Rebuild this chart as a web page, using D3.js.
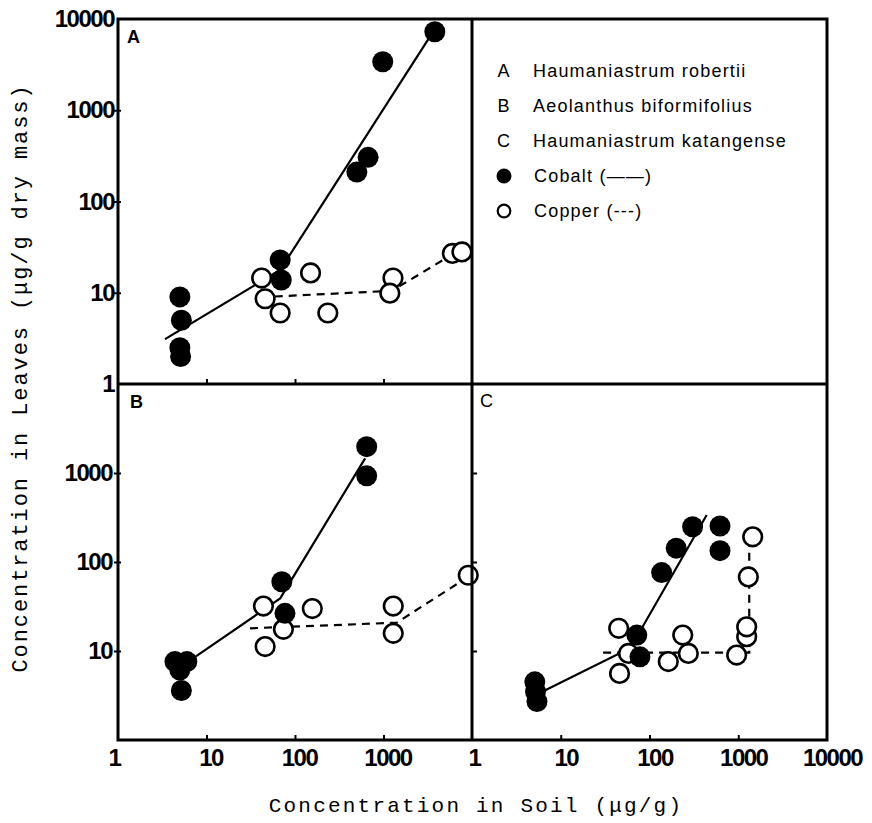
<!DOCTYPE html>
<html>
<head>
<meta charset="utf-8">
<script src="https://cdn.jsdelivr.net/npm/d3@7"></script>
<style>
  html, body { margin: 0; padding: 0; background: #fff; }
  svg { display: block; }
</style>
</head>
<body>
<svg id="chart" width="872" height="823"></svg>
<script>
// ---------------- DATA ----------------
const decadeTicks = [1, 10, 100, 1000, 10000];
const innerTicks = [10, 100, 1000];
const xLabelsLeft = [1, 10, 100, 1000];
const xLabelsRight = [1, 10, 100, 1000, 10000];
const yLabelsTop = [1, 10, 100, 1000, 10000];
const yLabelsBottom = [10, 100, 1000];

// Panel A: Haumaniastrum robertii
const cobaltA = [[5, 9.0], [5.2, 5.0], [5, 2.5], [5.1, 2.0], [68, 22.9], [70, 13.8],
                 [500, 210], [670, 305], [980, 3400], [3800, 7250]];
const copperA = [[42, 14.5], [46, 8.6], [68, 6.0], [150, 16.5], [235, 6.0],
                 [1280, 14.5], [1180, 9.9], [6000, 27], [7700, 28]];
const cobaltLineA = [[3.4, 3.1], [68, 17.8], [3350, 6400]];
const copperLineA = [[59, 9.1], [1240, 10.5], [5500, 25]];

// Panel B: Aeolanthus biformifolius
const cobaltB = [[4.4, 7.6], [6.0, 7.6], [5.0, 6.1], [5.2, 3.6], [71, 60], [77, 26.5],
                 [646, 1975], [646, 930]];
const copperB = [[44, 32], [46, 11.2], [74, 17.5], [157, 30], [1290, 32], [1290, 15.8], [9080, 71]];
const cobaltLineB = [[7.1, 8.3], [68, 39], [620, 1460]];
const copperLineB = [[31, 18], [1410, 20.8], [8000, 63]];

// Panel C: Haumaniastrum katangense
const cobaltC = [[5.1, 4.5], [5.2, 3.5], [5.4, 2.7], [72, 15.1], [78, 8.6], [137, 76],
                 [200, 143], [306, 249], [623, 254], [623, 134]];
const copperC = [[45, 18], [58, 9.4], [46, 5.6], [163, 7.6], [237, 15.1], [274, 9.4],
                 [960, 9.0], [1245, 14.5], [1245, 18.7], [1300, 68], [1455, 192]];
const cobaltLineC = [[6.6, 3.6], [61, 10.8], [441, 337]];
const copperLineC = [[30, 9.6], [1330, 9.6], [1330, 190]];

const legendSpecies = [["A", "Haumaniastrum robertii"], ["B", "Aeolanthus biformifolius"], ["C", "Haumaniastrum katangense"]];
const legendMetals = [["cobalt", "Cobalt (——)"], ["copper", "Copper (---)"]];
const xTitle = "Concentration in Soil (μg/g)";
const yTitle = "Concentration in Leaves (μg/g dry mass)";

// ---------------- LAYOUT ----------------
const L = 118, M = 472, R = 827, T = 19, MY = 384, B = 740;
const svg = d3.select("#chart");
svg.append("rect").attr("width", 872).attr("height", 823).attr("fill", "#fff");

const xLeft = d3.scaleLog().domain([1, 10000]).range([L, M]);
const xRight = d3.scaleLog().domain([1, 10000]).range([M, R]);
const yTop = d3.scaleLog().domain([1, 10000]).range([MY, T]);
const yBot = d3.scaleLog().domain([1, 10000]).range([B, MY]);

const tickFont = "'Liberation Sans', Arial, sans-serif";

function styleTicks(g) {
  g.select(".domain").remove();
  g.selectAll(".tick line").attr("stroke", "#000").attr("stroke-width", 2);
}

// tick marks (inward)
function tickAxis(axis, tx, ty) {
  svg.append("g").attr("transform", `translate(${tx},${ty})`)
    .call(axis.tickFormat(""))
    .call(styleTicks);
}
tickAxis(d3.axisBottom(xLeft).tickValues(innerTicks).tickSizeInner(-5).tickSizeOuter(0), 0, MY);
tickAxis(d3.axisBottom(xLeft).tickValues(innerTicks).tickSizeInner(-5).tickSizeOuter(0), 0, B);
tickAxis(d3.axisBottom(xRight).tickValues(innerTicks).tickSizeInner(-5).tickSizeOuter(0), 0, B);
tickAxis(d3.axisLeft(yBot).tickValues(innerTicks).tickSizeInner(-5).tickSizeOuter(0), M, 0);
tickAxis(d3.axisLeft(yTop).tickValues(innerTicks).tickSizeInner(4).tickSizeOuter(0), L, 0);
tickAxis(d3.axisRight(yTop).tickValues(innerTicks).tickSizeInner(3).tickSizeOuter(0), L, 0);
tickAxis(d3.axisLeft(yBot).tickValues(innerTicks).tickSizeInner(4).tickSizeOuter(0), L, 0);
tickAxis(d3.axisRight(yBot).tickValues(innerTicks).tickSizeInner(3).tickSizeOuter(0), L, 0);

// labels
function labelAxis(axis, tx, ty) {
  const g = svg.append("g").attr("transform", `translate(${tx},${ty})`)
    .call(axis.tickFormat(d3.format("d")));
  g.select(".domain").remove();
  g.selectAll(".tick line").remove();
  g.selectAll(".tick text")
    .attr("fill", "#000")
    .style("font-family", tickFont)
    .style("font-weight", "bold")
    .style("font-size", "24px")
    .style("letter-spacing", "-1.5px");
  return g;
}
labelAxis(d3.axisLeft(yTop).tickValues(yLabelsTop).tickSize(0).tickPadding(4), L, 0);
labelAxis(d3.axisLeft(yBot).tickValues(yLabelsBottom).tickSize(0).tickPadding(6), L, 0);
const gxl = labelAxis(d3.axisBottom(xLeft).tickValues(xLabelsLeft).tickSize(0).tickPadding(9), 0, B);
gxl.selectAll(".tick text").attr("dx", d => d === 1 ? -4 : 4);
const gxr = labelAxis(d3.axisBottom(xRight).tickValues(xLabelsRight).tickSize(0).tickPadding(9), 0, B);
gxr.selectAll(".tick text").attr("dx", d => d === 1 ? 2 : 5);

// ---------------- SERIES ----------------
function drawPanel(xs, ys, cobalt, copper, cobaltLine, copperLine) {
  const line = d3.line().x(d => xs(d[0])).y(d => ys(d[1]));
  svg.append("path").datum(cobaltLine).attr("d", line)
    .attr("fill", "none").attr("stroke", "#000").attr("stroke-width", 2.2);
  svg.append("path").datum(copperLine).attr("d", line)
    .attr("fill", "none").attr("stroke", "#000").attr("stroke-width", 2.2)
    .attr("stroke-dasharray", "8,6");
  svg.append("g").selectAll("circle").data(copper).join("circle")
    .attr("cx", d => xs(d[0])).attr("cy", d => ys(d[1])).attr("r", 9.3)
    .attr("fill", "#fff").attr("stroke", "#000").attr("stroke-width", 2.6);
  svg.append("g").selectAll("circle").data(cobalt).join("circle")
    .attr("cx", d => xs(d[0])).attr("cy", d => ys(d[1])).attr("r", 10.5)
    .attr("fill", "#000");
}
drawPanel(xLeft, yTop, cobaltA, copperA, cobaltLineA, copperLineA);
drawPanel(xLeft, yBot, cobaltB, copperB, cobaltLineB, copperLineB);
drawPanel(xRight, yBot, cobaltC, copperC, cobaltLineC, copperLineC);

// ---------------- FRAME ----------------
const frame = svg.append("g").attr("stroke", "#000").attr("stroke-width", 3).attr("fill", "none");
frame.append("rect").attr("x", L).attr("y", T).attr("width", R - L).attr("height", B - T);
frame.append("line").attr("x1", M).attr("x2", M).attr("y1", T).attr("y2", B);
frame.append("line").attr("x1", L).attr("x2", R).attr("y1", MY).attr("y2", MY);

// panel letters
const letterStyle = sel => sel.style("font-family", tickFont).style("font-size", "18px").attr("fill", "#000");
svg.append("text").attr("x", 127).attr("y", 43).text("A").call(letterStyle).style("font-weight", "bold");
svg.append("text").attr("x", 130).attr("y", 408).text("B").call(letterStyle).style("font-weight", "bold");
svg.append("text").attr("x", 480).attr("y", 407).text("C").call(letterStyle);

// ---------------- LEGEND ----------------
const lg = svg.append("g");
const legFont = sel => sel.style("font-family", tickFont).style("font-size", "18px")
  .style("letter-spacing", "1.2px").attr("fill", "#000");
legendSpecies.forEach((d, i) => {
  const y = 77 + i * 35;
  lg.append("text").attr("x", 504).attr("y", y).attr("text-anchor", "middle").text(d[0]).call(legFont);
  lg.append("text").attr("x", 533).attr("y", y).text(d[1]).call(legFont);
});
legendMetals.forEach((d, i) => {
  const y = 182 + i * 35;
  if (d[0] === "cobalt") {
    lg.append("circle").attr("cx", 504).attr("cy", y - 6).attr("r", 7.5).attr("fill", "#000");
  } else {
    lg.append("circle").attr("cx", 504).attr("cy", y - 6).attr("r", 6.3)
      .attr("fill", "#fff").attr("stroke", "#000").attr("stroke-width", 2.2);
  }
  lg.append("text").attr("x", 534).attr("y", y).text(d[1]).call(legFont);
});

// ---------------- TITLES ----------------
svg.append("text").attr("x", 476).attr("y", 812).attr("text-anchor", "middle")
  .style("font-family", "'Liberation Mono', 'DejaVu Sans Mono', monospace")
  .style("font-size", "21px").style("letter-spacing", "2.2px").attr("fill", "#000")
  .text(xTitle);
svg.append("text").attr("transform", "translate(27,378) rotate(-90)").attr("text-anchor", "middle")
  .style("font-family", "'Liberation Mono', 'DejaVu Sans Mono', monospace")
  .style("font-size", "22px").style("letter-spacing", "1.9px").attr("fill", "#000")
  .text(yTitle);
</script>
</body>
</html>
